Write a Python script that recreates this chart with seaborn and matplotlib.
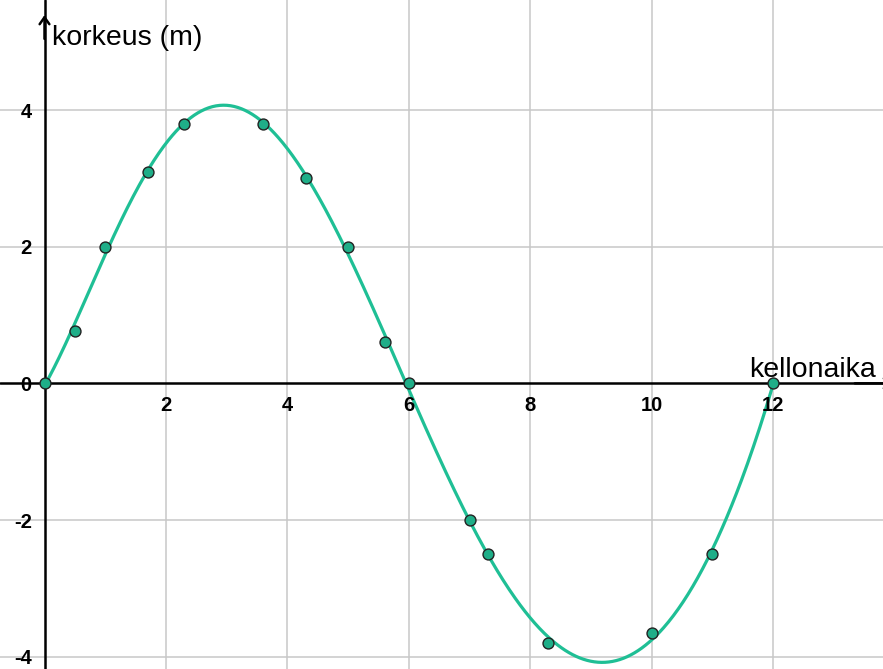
import numpy as np
import pandas as pd
import matplotlib
matplotlib.use("Agg")
import matplotlib.pyplot as plt
import seaborn as sns

# Measured water level (m) at given clock times
aika = [0, 0.5, 1, 1.7, 2.3, 3.6, 4.3, 5, 5.6, 6, 7, 7.3, 8.3, 10, 11, 12]
korkeus = [0, 0.76, 2, 3.1, 3.8, 3.8, 3.0, 2, 0.6, 0, -2, -2.5, -3.8, -3.65, -2.5, 0]

x_ticks = [2, 4, 6, 8, 10, 12]
y_ticks = [-4, -2, 2, 4]

df = pd.DataFrame({"aika": aika, "korkeus": korkeus})

# Least-squares polynomial model of the measurements (degree 6)
coef = np.polyfit(aika, korkeus, 6)
xf = np.linspace(0, 12, 600)
fit = pd.DataFrame({"aika": xf, "korkeus": np.polyval(coef, xf)})

sns.set_style("white")
plt.rcParams["font.family"] = ["Liberation Sans", "DejaVu Sans"]

fig = plt.figure(figsize=(8.83, 6.69), dpi=100)
ax = fig.add_axes([0, 0, 1, 1])
ax.set_xlim(-0.733, 13.81)
ax.set_ylim(-4.18, 5.61)
for s in ax.spines.values():
    s.set_visible(False)

grid_c = "#c8c8c8"
for t in x_ticks:
    ax.axvline(t, color=grid_c, lw=1.1, zorder=0)
for t in y_ticks:
    ax.axhline(t, color=grid_c, lw=1.1, zorder=0)

# coordinate axes through the origin
ax.axhline(0, color="black", lw=1.8, zorder=1)
ax.axvline(0, color="black", lw=1.8, zorder=1)
ax.annotate("", xy=(0, 5.43), xytext=(0, 5.0),
            arrowprops=dict(arrowstyle="->,head_length=0.5,head_width=0.35",
                            color="black", lw=1.8), zorder=2)
ax.annotate("", xy=(14.02, 0), xytext=(13.3, 0),
            arrowprops=dict(arrowstyle="->,head_length=0.5,head_width=0.35",
                            color="black", lw=1.8), zorder=2, annotation_clip=False)

sns.lineplot(data=fit, x="aika", y="korkeus", color="#1fbf95", lw=2.3,
             ax=ax, zorder=3, legend=False)
sns.scatterplot(data=df, x="aika", y="korkeus", color="#1fae88", s=62,
                edgecolor="#222222", linewidth=1.0, ax=ax, zorder=4, legend=False)
ax.set_xlabel("")
ax.set_ylabel("")
ax.set_xticks([])
ax.set_yticks([])

# tick labels
for t in x_ticks:
    ax.text(t, -0.32, f"{t}", ha="center", va="center", fontsize=14.5,
            fontweight="bold", color="black")
for t in y_ticks:
    ax.text(-0.21, t - 0.03, f"{t}", ha="right", va="center", fontsize=14.5,
            fontweight="bold", color="black")
ax.text(-0.21, -0.03, "0", ha="right", va="center", fontsize=14.5,
        fontweight="bold", color="black")

ax.text(0.13, 4.95, "korkeus (m)", ha="left", va="baseline", fontsize=20.5, color="black")
ax.text(11.6, 0.1, "kellonaika", ha="left", va="baseline", fontsize=20.5, color="black")

fig.savefig("out.png", dpi=100)
